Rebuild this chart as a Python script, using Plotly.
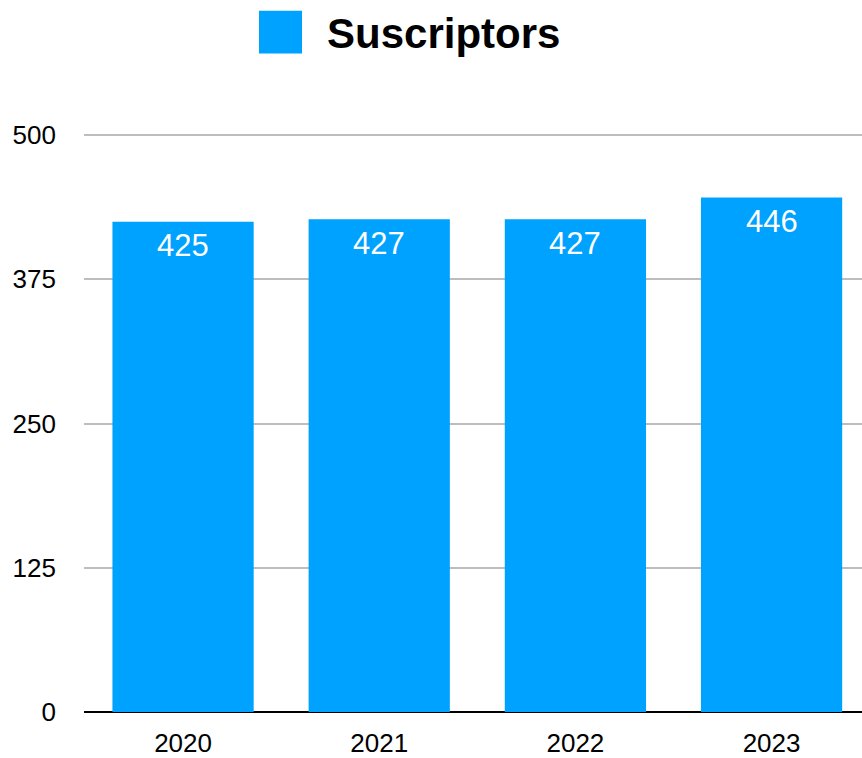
import plotly.graph_objects as go

years = ["2020", "2021", "2022", "2023"]
subscribers = [425, 427, 427, 446]
series_name = "Suscriptors"
y_ticks = [0, 125, 250, 375, 500]

BLUE = "#00A2FF"
FONT = "Liberation Sans, Arial, Helvetica, sans-serif"

fig = go.Figure()
fig.add_trace(go.Bar(
    x=years, y=subscribers, name=series_name,
    marker=dict(color=BLUE, line=dict(width=0)),
    width=0.72, showlegend=False,
))

# value labels inside bars, near the top
for i, v in enumerate(subscribers):
    fig.add_annotation(x=i, y=v, xref="x", yref="y", text=str(v),
                       showarrow=False, yanchor="middle", yshift=-24,
                       font=dict(family=FONT, size=31, color="white"))

# custom legend
fig.add_shape(type="rect", xref="paper", yref="paper",
              x0=(259 - 84) / 778, x1=(302 - 84) / 778,
              y0=(758 - 43 - 53) / 581, y1=(758 - 43 - 10) / 581,
              fillcolor=BLUE, line=dict(width=0))
fig.add_annotation(xref="paper", yref="paper",
                   x=(325 - 84) / 778, y=(758 - 43 - 33) / 581,
                   xanchor="left", yanchor="middle", showarrow=False,
                   text="<b>" + series_name + "</b>",
                   font=dict(family=FONT, size=42, color="black"))

fig.update_layout(
    width=862, height=758,
    margin=dict(l=84, r=0, t=134, b=43),
    paper_bgcolor="white", plot_bgcolor="white",
    font=dict(family=FONT, size=26, color="black"),
)
fig.update_xaxes(type="category", range=[-0.505, 3.461],
                 showgrid=False, showline=False, ticks="",
                 ticklabelstandoff=13,
                 tickfont=dict(family=FONT, size=26, color="black"))
fig.update_yaxes(range=[0, 501], tickvals=y_ticks,
                 showgrid=True, gridcolor="#BDBDBD", gridwidth=2,
                 zeroline=True, zerolinecolor="black", zerolinewidth=2,
                 showline=False, ticks="", ticklabelstandoff=27,
                 tickfont=dict(family=FONT, size=26, color="black"))

fig.write_html("out.html",
               config={"displayModeBar": False},
               post_script="document.body.style.margin='0';"
                           "document.body.style.padding='0';"
                           "document.body.style.overflow='hidden';")
